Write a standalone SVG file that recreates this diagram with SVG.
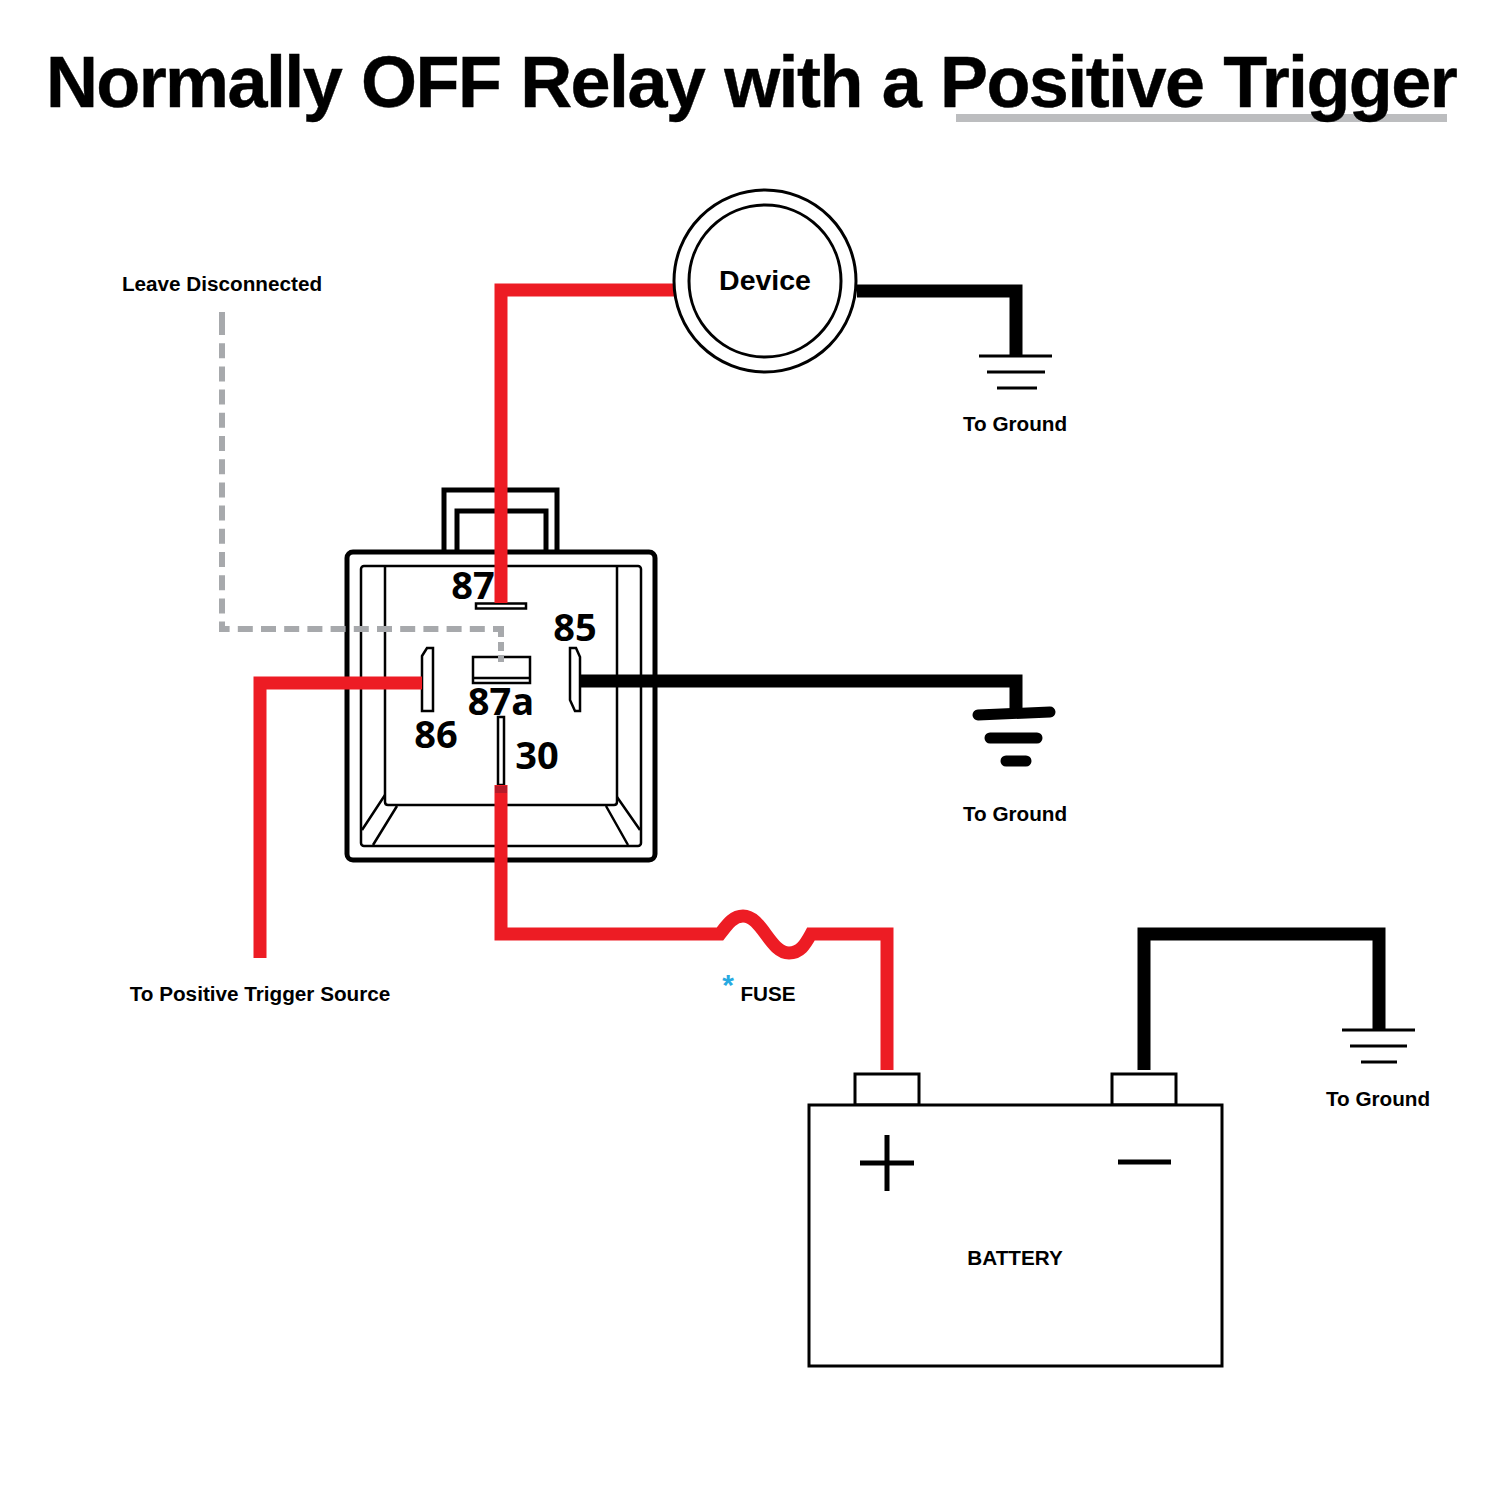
<svg xmlns="http://www.w3.org/2000/svg" width="1500" height="1500" viewBox="0 0 1500 1500">
<style>
text{font-family:"Liberation Sans",Arial,sans-serif;font-weight:700;fill:#000}
.lbl{font-size:20.7px;text-anchor:middle}
.num{font-family:"Open Sans","DejaVu Sans",sans-serif;font-size:38px;text-anchor:middle}
.wire{fill:none;stroke-width:13;stroke-linejoin:miter}
.red{stroke:#ED1C24}
.blk{stroke:#000}
.thin{fill:none;stroke:#000;stroke-width:3}
.in{fill:none;stroke:#000;stroke-width:2.5}
.term{fill:#fff;stroke:#000;stroke-width:2.5}
.rnd{stroke:#000;stroke-width:11;stroke-linecap:round}
.dash{fill:none;stroke:#A7A9AC;stroke-width:6}
</style>
<rect width="1500" height="1500" fill="#fff"/>
<g id="title">
<rect x="956" y="114" width="491" height="8" fill="#BCBDBF"/>
<text x="751" y="107" font-size="72" text-anchor="middle" letter-spacing="-1.6" word-spacing="1.5" stroke="#000" stroke-width="0.4">Normally OFF Relay with a Positive Trigger</text>
</g>
<g id="relay">
<path d="M444 552V490H557V552" fill="none" stroke="#000" stroke-width="5"/>
<path d="M457 552V511H546V552" fill="none" stroke="#000" stroke-width="5"/>
<rect x="347" y="552" width="308" height="308" rx="6" fill="#fff" stroke="#000" stroke-width="5"/>
<rect x="361" y="566" width="280" height="280" rx="3" class="in"/>
<path class="in" d="M385 566V802Q385 805 388 805H614Q617 805 617 802V566"/>
<path class="in" d="M385 795L362 830M397 806L373 845M617 797L640 830M606 806L628 845"/>
<rect id="pin87" class="term" x="476" y="603.500" width="50" height="5"/>
<g id="pin87a"><rect class="term" x="473" y="657" width="57" height="26"/><path class="in" d="M473 678H530"/></g>
<path id="pin86" class="term" d="M422 656L427 648H433V711H422Z"/>
<path id="pin85" class="term" d="M570 648H576L580 657V711L575 711L570 700Z"/>
<rect id="pin30" class="term" x="498" y="717" width="6" height="68"/>
<text class="num" x="473" y="599">87</text>
<text class="num" x="575" y="641">85</text>
<text class="num" x="501" y="715">87a</text>
<text class="num" x="436" y="748">86</text>
<text class="num" x="537" y="769">30</text>
</g>
<g id="connectors">
<path class="wire red" d="M501 603V290H674"/>
<path class="wire red" d="M422 683H260V958"/>
<path class="wire red" d="M501 785V934H720C727 925 733 916 743 916C762 916 770 953 789 953C800 953 805 945 811 934H887V1070"/>
<rect x="495" y="786" width="12" height="7" fill="#B51C2A"/>
<path class="wire blk" d="M857 291H1016V356"/>
<path class="wire blk" d="M580 681H1016V712"/>
<path class="wire blk" d="M1144 1070V934H1379V1030"/>
<path class="dash" d="M222 312V320"/>
<path class="dash" d="M222 320V629H504" stroke-dasharray="15 8.200" stroke-dashoffset="23.200"/>
<path class="dash" d="M501 632V662" stroke-dasharray="5 5 9 4 7"/>
</g>
<g id="device">
<circle cx="765" cy="281" r="91" fill="#fff" stroke="#000" stroke-width="3"/>
<circle cx="765" cy="281" r="76" fill="#fff" stroke="#000" stroke-width="3"/>
<text x="765" y="290" font-size="28.500" text-anchor="middle">Device</text>
</g>
<g id="ground1">
<path class="thin" d="M979 356H1052M987 372H1045M997 388H1037"/>
<text class="lbl" x="1015" y="431">To Ground</text>
</g>
<g id="ground2">
<path class="rnd" d="M978 715L1050 712M990 738H1037M1006 761H1026"/>
<text class="lbl" x="1015" y="821">To Ground</text>
</g>
<g id="ground3">
<path class="thin" d="M1342 1030H1415M1350 1046H1407M1361 1062H1397"/>
<text class="lbl" x="1378" y="1106">To Ground</text>
</g>
<g id="battery">
<rect x="855" y="1074" width="64" height="31" fill="#fff" stroke="#000" stroke-width="3"/>
<rect x="1112" y="1074" width="64" height="31" fill="#fff" stroke="#000" stroke-width="3"/>
<rect x="809" y="1105" width="413" height="261" fill="#fff" stroke="#000" stroke-width="3"/>
<path d="M860 1163H914M887 1135V1191M1118 1162H1171" fill="none" stroke="#000" stroke-width="5"/>
<text class="lbl" x="1015" y="1265">BATTERY</text>
</g>
<g id="labels">
<text class="lbl" x="222" y="291">Leave Disconnected</text>
<text class="lbl" x="260" y="1001">To Positive Trigger Source</text>
<text class="lbl" x="768" y="1001">FUSE</text>
<text x="728" y="995" font-size="30" text-anchor="middle" style="fill:#27AAE1">*</text>
</g>
</svg>
